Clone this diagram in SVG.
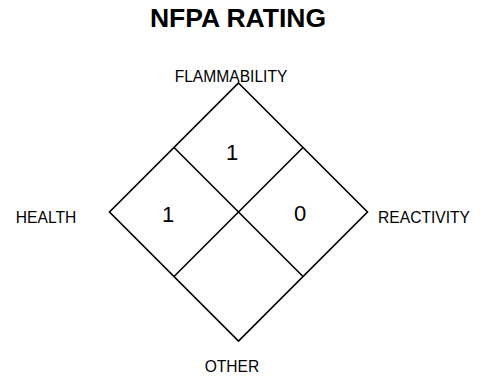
<svg xmlns="http://www.w3.org/2000/svg" width="481" height="377" viewBox="0 0 481 377">
<style>
.lbl{font-family:"Liberation Sans",Arial,sans-serif;font-size:15.6px;fill:#000;text-anchor:middle}
.num{font-family:"Liberation Sans",Arial,sans-serif;font-size:22px;fill:#000;text-anchor:middle}
.ttl{font-family:"Liberation Sans",Arial,sans-serif;font-size:26.5px;font-weight:bold;fill:#000;text-anchor:middle}
.ln{stroke:#000;stroke-width:1.6;fill:none;stroke-linejoin:miter}
</style>
<rect width="481" height="377" fill="#fff"/>
<text id="title" class="ttl" x="238" y="26.7">NFPA RATING</text>
<g id="diamond">
<polygon class="ln" points="238.5,83 367.5,212 238.5,341 109.5,212"/>
</g>
<g id="connectors">
<line class="ln" x1="174" y1="147.5" x2="303" y2="276.5"/>
<line class="ln" x1="303" y1="147.5" x2="174" y2="276.5"/>
</g>
<g id="flammability"><text class="lbl" x="231" y="81.5">FLAMMABILITY</text><text class="num" x="232" y="160">1</text></g>
<g id="health"><text class="lbl" x="46" y="223.3">HEALTH</text><text class="num" x="168" y="221.5">1</text></g>
<g id="reactivity"><text class="lbl" x="424" y="223.3">REACTIVITY</text><text class="num" x="300" y="220.5">0</text></g>
<g id="other"><text class="lbl" x="232" y="371.7">OTHER</text></g>
</svg>
